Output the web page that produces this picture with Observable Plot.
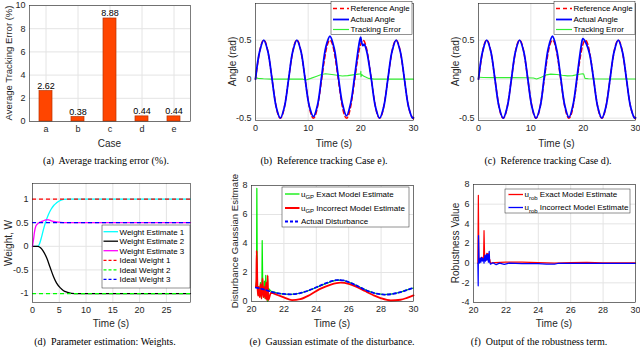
<!DOCTYPE html>
<html><head><meta charset="utf-8">
<script src="https://cdn.jsdelivr.net/npm/d3@7"></script>
<script src="https://cdn.jsdelivr.net/npm/@observablehq/plot@0.6"></script>
<style>
body{margin:0;background:#fff;width:640px;height:347px;overflow:hidden;position:relative;font-family:"Liberation Sans",Arial,sans-serif;}
.panel{position:absolute;overflow:visible;}
.cap{position:absolute;font-family:"Liberation Serif","Times New Roman",serif;font-size:10px;line-height:12px;color:#000;white-space:pre;transform:translateX(-50%);}
</style></head><body>
<script>
// ---------- (a) average tracking error ----------
const cases = ["a","b","c","d","e"];
const avgErr = [2.62, 0.38, 8.88, 0.44, 0.44];
const errTicks = [0,2,4,6,8,10];

// ---------- (b),(c) reference tracking ----------
const angleTicks = [-0.5, 0, 0.5];
const time30Ticks = [0, 10, 20, 30];
const refT = [0,0.785,1.571,2.356,3.142,3.927,4.712,5.498,6.283,7.069,7.854,8.639,9.425,10.21,10.996,11.781,12.566,13.352,14.137,14.923,15.708,16.493,17.279,18.064,18.85,19.635,20.42,21.206,21.991,22.777,23.562,24.347,25.133,25.918,26.704,27.489,28.274,29.06,29.845,30];
const refAngle = [0,0.354,0.5,0.354,0,-0.354,-0.5,-0.354,0,0.354,0.5,0.354,0,-0.354,-0.5,-0.354,0,0.354,0.5,0.354,0,-0.354,-0.5,-0.354,0,0.354,0.5,0.354,0,-0.354,-0.5,-0.354,0,0.354,0.5,0.354,0,-0.354,-0.5,-0.494];
const actBT = [0,0.785,1.571,2.356,3.142,3.927,4.712,5.498,6.283,7.069,7.854,8.639,9.425,10.21,10.996,11.781,12.566,13.352,14.137,14.923,15.708,16.493,17.279,18.064,18.85,19.635,19.96,20.15,20.4,20.65,20.9,21.206,21.991,22.777,23.562,24.347,25.133,25.918,26.704,27.489,28.274,29.06,29.845,30];
const actB = [0,0.354,0.5,0.354,0,-0.354,-0.5,-0.354,0,0.354,0.5,0.354,0,-0.345,-0.48,-0.33,0.04,0.41,0.55,0.4,0.04,-0.31,-0.47,-0.31,0.05,0.44,0.54,0.47,0.43,0.45,0.41,0.33,0,-0.354,-0.5,-0.354,0,0.354,0.5,0.354,0,-0.354,-0.5,-0.494];
const errBT = [0,0.5,1.5,3,6,9,9.6,10.5,11.5,12.5,13.3,14.5,15.5,16.5,17.5,18.5,19.5,19.95,20.0,20.03,20.15,20.5,21.5,22.5,25,30];
const errB = [0.02,0.01,0.005,0,0,0,-0.01,0.01,0.035,0.06,0.07,0.06,0.05,0.04,0.045,0.055,0.065,0.07,0.1,0.03,0.06,0.04,0.01,0,0,0];
const actCT = [0,0.785,1.571,2.356,3.142,3.927,4.712,5.498,6.283,7.069,7.854,8.639,9.425,10.21,10.996,11.781,12.566,13.352,14.137,14.923,15.708,16.493,17.279,18.064,18.85,19.635,19.95,20.42,21.206,21.991,22.777,23.562,24.347,25.133,25.918,26.704,27.489,28.274,29.06,29.845,30];
const actC = [0,0.354,0.5,0.354,0,-0.354,-0.5,-0.354,0,0.354,0.5,0.354,0,-0.354,-0.5,-0.354,0.03,0.40,0.55,0.38,0.02,-0.34,-0.49,-0.33,0.04,0.43,0.52,0.48,0.33,0,-0.354,-0.5,-0.354,0,0.354,0.5,0.354,0,-0.354,-0.5,-0.494];
const errCT = [0,1,3,6,9,10.5,11.1,12,13,13.8,15,16,17,18,19,19.9,20.1,20.35,21,24,27,30];
const errC = [0.025,0.022,0.02,0.02,0.018,0.015,0.003,0.025,0.055,0.065,0.06,0.05,0.042,0.045,0.06,0.07,0.065,0.01,0.005,0.003,0.003,0.003];

// ---------- (d) weights ----------
const wTicks = [-1,-0.5,0,0.5,1];
const wTimeTicks = [0,5,10,15,20,25];
const w1T = [0,0.5,1.0,1.3,1.7,2.1,2.5,3.0,3.5,4.0,4.5,5.0,5.8,7.0,29.5];
const w1 = [0,0,0,0.05,0.2,0.38,0.53,0.68,0.79,0.87,0.92,0.96,0.995,1.0,1.0];
const w2T = [0,1.0,1.5,2.0,2.7,3.3,3.95,4.5,5.2,5.8,6.4,7.3,8.5,29.5];
const w2 = [0,0,-0.03,-0.1,-0.26,-0.45,-0.65,-0.78,-0.88,-0.94,-0.97,-0.995,-1.0,-1.0];
const w3T = [0,0.1,0.2,0.35,0.6,0.9,1.2,1.6,2.0,2.5,3.0,3.5,4.2,5.0,6.0,29.5];
const w3 = [0,0.08,0.15,0.29,0.42,0.47,0.5,0.52,0.54,0.56,0.56,0.54,0.52,0.51,0.5,0.5];
const idealW = [1, -1, 0.5];

// ---------- (e) disturbance ----------
const gpTicks = [0,2,4,6,8];
const time20Ticks = [20,22,24,26,28,30];
const distT = [20.27,20.6,21,21.5,22,22.5,23,23.5,24,24.5,25,25.3,25.7,26.2,26.7,27.2,27.7,28.2,28.7,29.2,29.6,30];
const dist = [0.95,0.88,0.75,0.6,0.52,0.5,0.58,0.75,0.98,1.22,1.42,1.48,1.45,1.25,0.98,0.72,0.55,0.48,0.52,0.65,0.8,0.94];
const gpExactT = [20.27,20.31,20.33,20.36,20.4,20.45,20.5,20.55,20.6,20.64,20.66,20.7,20.75,20.8,20.84,20.88,20.92,20.97,21.0,21.05,21.2,21.6,22,22.5,23,23.5,24,24.5,25,25.3,25.7,26.2,26.7,27.2,27.7,28.2,28.7,29.2,29.6,30];
const gpExact = [1.0,1.5,7.8,1.2,0.5,1.0,0.4,1.3,0.3,1.0,4.2,0.6,0.3,1.4,0.2,1.8,0.3,1.0,0.0,0.9,0.72,0.58,0.5,0.5,0.57,0.74,0.97,1.2,1.4,1.47,1.45,1.25,0.98,0.72,0.55,0.48,0.52,0.65,0.8,0.93];
const gpIncT = [20.27,20.3,20.32,20.36,20.4,20.45,20.5,20.56,20.62,20.68,20.74,20.8,20.86,20.9,20.95,21.0,21.03,21.2,21.6,22,22.5,23,23.6,24.2,24.9,25.5,26,26.5,27,27.5,28,28.6,29.2,29.6,30];
const gpInc = [1.0,1.4,3.5,1.3,0.4,1.0,0.3,1.2,0.2,1.6,0.3,1.0,0.2,1.3,0.1,1.8,0.1,0.6,0.45,0.28,0.1,0.16,0.45,0.85,1.17,1.3,1.22,1.0,0.72,0.45,0.22,0.07,0.12,0.25,0.42];

// ---------- (f) robustness ----------
const robTicks = [-4,-2,0,2,4,6,8];
const robExT = [20.27,20.3,20.33,20.38,20.42,20.47,20.52,20.58,20.62,20.65,20.69,20.74,20.78,20.82,20.86,20.9,20.95,21.0,21.05,21.3,22,23,24,25,26,27,28,30];
const robEx = [0,6.9,0.3,0.5,0.2,0.6,0.3,0.6,0.3,3.3,0.4,0.7,0.3,1.0,0.5,1.0,0.2,0.4,0.0,0.05,0.1,0.1,0.05,0.0,0.05,0.08,0.02,0.02];
const robIncT = [20.27,20.29,20.31,20.34,20.38,20.42,20.46,20.5,20.55,20.6,20.65,20.7,20.74,20.79,20.83,20.88,20.92,20.97,21.0,21.05,21.2,21.4,21.6,21.9,22.2,23,24,24.5,25,25.2,27,30];
const robInc = [0,-2.3,2.8,0.3,0.0,0.5,0.1,0.6,0.2,0.5,0.0,0.8,0.2,0.9,0.3,0.9,0.1,1.2,0.1,-0.1,0.05,-0.15,0.0,-0.12,0.0,-0.05,-0.05,-0.1,-0.1,-0.03,-0.02,-0.02];

// ---------- helpers ----------
const RED = "#ff0000", BLUE = "#0000ff", GREEN = "#33ee33";
const fmt = d => String(d);
const GRID = "#e4e4e4";

function panel(cfg) {
  const {left, top, width, height, box, x, y, xTicks, yTicks, marks} = cfg;
  const svg = Plot.plot({
    width, height,
    marginLeft: box.l - left, marginRight: left + width - box.r,
    marginTop: box.t - top, marginBottom: top + height - box.b,
    style: {fontFamily: "Liberation Sans, Arial, sans-serif", fontSize: "9px", color: "#262626", background: "transparent", overflow: "visible"},
    x, y,
    marks: [
      Plot.gridX({ticks: xTicks, stroke: GRID, strokeOpacity: 1}),
      Plot.gridY({ticks: yTicks, stroke: GRID, strokeOpacity: 1}),
      ...marks,
      Plot.frame({stroke: "#262626", strokeWidth: 0.6}),
      Plot.axisX({ticks: xTicks, tickSize: 0, tickPadding: 4, tickFormat: cfg.xFormat || fmt, label: null}),
      Plot.axisY({ticks: yTicks, tickSize: 0, tickPadding: 4, tickFormat: fmt, label: null})
    ]
  });
  svg.classList.add("panel");
  svg.style.left = left + "px";
  svg.style.top = top + "px";
  document.body.appendChild(svg);
  const s = d3.select(svg);
  s.append("text").attr("transform", `translate(${cfg.yl[0]-left},${cfg.yl[1]-top}) rotate(-90)`)
    .attr("text-anchor", "middle").attr("dy", "0.35em").style("font-size", (cfg.ylSize || 10) + "px").attr("fill", "#262626").text(cfg.ylabel);
  s.append("text").attr("x", cfg.xl[0]-left).attr("y", cfg.xl[1]-top)
    .attr("text-anchor", "middle").attr("dy", "0.35em").style("font-size", "10px").attr("fill", "#262626").text(cfg.xlabel);
  if (cfg.legend) {
    const L = cfg.legend;
    const g = s.append("g").attr("text-anchor", "start");
    g.append("rect").attr("x", L.x - left).attr("y", L.y - top).attr("width", L.w).attr("height", L.h)
      .attr("fill", "#fff").attr("stroke", "#262626").attr("stroke-width", 0.5);
    L.rows.forEach(r => {
      g.append("line").attr("x1", L.s0 - left).attr("x2", L.s1 - left).attr("y1", r.y - top).attr("y2", r.y - top)
        .attr("stroke", r.color).attr("stroke-width", r.w || 1.2).attr("stroke-dasharray", r.dash || null);
      const t = g.append("text").attr("x", L.tx - left).attr("y", r.y - top).attr("dy", "0.35em")
        .attr("text-anchor", "start").style("font-size", "8px").attr("fill", "#000");
      if (r.sub) {
        t.append("tspan").text(r.pre);
        t.append("tspan").attr("dy", 2.5).style("font-size", "6px").text(r.sub);
        t.append("tspan").attr("dy", -2.5).text(" " + r.label);
      } else t.text(r.label);
    });
  }
}
function caption(text, cx, top) {
  const d = document.createElement("div");
  d.className = "cap"; d.style.left = cx + "px"; d.style.top = top + "px"; d.textContent = text;
  document.body.appendChild(d);
}
const ln = (T, V, o) => Plot.line(V, {x: T, y: V, ...o});

// (a)
panel({
  left: 0, top: 0, width: 205, height: 150, box: {l: 29, r: 190, t: 5, b: 121},
  x: {domain: cases, paddingInner: 0.6, paddingOuter: 0.3}, y: {domain: [0, 10]},
  xTicks: cases, yTicks: errTicks, xFormat: d => d,
  marks: [
    Plot.barY(avgErr, {x: cases, y: avgErr, fill: "#ff4500", stroke: "#b83200", strokeWidth: 0.7}),
    Plot.text(avgErr, {x: cases, y: avgErr, text: avgErr.map(d => d.toFixed(2)), dy: -2, lineAnchor: "bottom", fontSize: 9, fill: "#000"})
  ],
  ylabel: "Average Tracking Error (%)", ylSize: 9.5, yl: [9, 63], xlabel: "Case", xl: [109.5, 143]
});
// (b)
panel({
  left: 215, top: 0, width: 205, height: 150, box: {l: 255, r: 413, t: 3, b: 120},
  x: {domain: [0, 30]}, y: {domain: [-0.53, 0.97]}, xTicks: time30Ticks, yTicks: angleTicks,
  marks: [
    ln(errBT, errB, {stroke: GREEN, strokeWidth: 1.1}),
    ln(refT, refAngle, {stroke: RED, strokeWidth: 1.5, strokeDasharray: "4,3", curve: "natural"}),
    ln(actBT, actB, {stroke: BLUE, strokeWidth: 1.8, curve: "catmull-rom"})
  ],
  ylabel: "Angle (rad)", yl: [232, 61.5], xlabel: "Time (s)", xl: [334, 143],
  legend: {x: 331, y: 1.5, w: 81, h: 33, s0: 333, s1: 349, tx: 350.5,
    rows: [{y: 8.5, color: RED, dash: "4,3", w: 1.5, label: "Reference Angle"},
           {y: 19.5, color: BLUE, w: 1.8, label: "Actual Angle"},
           {y: 29.5, color: GREEN, w: 1.2, label: "Tracking Error"}]}
});
// (c)
panel({
  left: 435, top: 0, width: 205, height: 150, box: {l: 478, r: 635, t: 3, b: 120},
  x: {domain: [0, 30]}, y: {domain: [-0.53, 0.97]}, xTicks: time30Ticks, yTicks: angleTicks,
  marks: [
    ln(errCT, errC, {stroke: GREEN, strokeWidth: 1.1}),
    ln(refT, refAngle, {stroke: RED, strokeWidth: 1.5, strokeDasharray: "4,3", curve: "natural"}),
    ln(actCT, actC, {stroke: BLUE, strokeWidth: 1.8, curve: "catmull-rom"})
  ],
  ylabel: "Angle (rad)", yl: [455, 61.5], xlabel: "Time (s)", xl: [556.5, 143],
  legend: {x: 554, y: 1.5, w: 81, h: 33, s0: 556, s1: 572, tx: 573.5,
    rows: [{y: 8.5, color: RED, dash: "4,3", w: 1.5, label: "Reference Angle"},
           {y: 19.5, color: BLUE, w: 1.8, label: "Actual Angle"},
           {y: 29.5, color: GREEN, w: 1.2, label: "Tracking Error"}]}
});
// (d)
panel({
  left: 0, top: 172, width: 205, height: 175, box: {l: 32, r: 190, t: 183, b: 302},
  x: {domain: [0, 29.5]}, y: {domain: [-1.19, 1.33]}, xTicks: wTimeTicks, yTicks: wTicks,
  marks: [
    ln(w1T, w1, {stroke: "#00ffff", strokeWidth: 1.3, curve: "monotone-x"}),
    ln(w2T, w2, {stroke: "#000000", strokeWidth: 1.3, curve: "monotone-x"}),
    ln(w3T, w3, {stroke: "#ff00ff", strokeWidth: 1.3, curve: "monotone-x"}),
    Plot.ruleY([idealW[0]], {y: d => d, stroke: RED, strokeWidth: 1.3, strokeDasharray: "4,3"}),
    Plot.ruleY([idealW[1]], {y: d => d, stroke: "#00ff00", strokeWidth: 1.3, strokeDasharray: "4,3"}),
    Plot.ruleY([idealW[2]], {y: d => d, stroke: BLUE, strokeWidth: 1.3, strokeDasharray: "4,3"})
  ],
  ylabel: "Weight, W", yl: [8, 243], xlabel: "Time (s)", xl: [111, 323],
  legend: {x: 102, y: 225, w: 88, h: 63, s0: 103.5, s1: 118, tx: 119.5,
    rows: [{y: 231.7, color: "#00ffff", w: 1.3, label: "Weight Estimate 1"},
           {y: 241.2, color: "#000", w: 1.3, label: "Weight Estimate 2"},
           {y: 250.7, color: "#ff00ff", w: 1.3, label: "Weight Estimate 3"},
           {y: 260.3, color: RED, dash: "3,2", w: 1.3, label: "Ideal Weight 1"},
           {y: 269.8, color: "#00ff00", dash: "3,2", w: 1.3, label: "Ideal Weight 2"},
           {y: 279.3, color: BLUE, dash: "3,2", w: 1.3, label: "Ideal Weight 3"}]}
});
// (e)
panel({
  left: 210, top: 172, width: 210, height: 175, box: {l: 251, r: 413, t: 185, b: 301},
  x: {domain: [20, 30]}, y: {domain: [0, 8]}, xTicks: time20Ticks, yTicks: gpTicks,
  marks: [
    ln(gpExactT, gpExact, {stroke: "#00ee00", strokeWidth: 1.2}),
    ln(gpIncT, gpInc, {stroke: RED, strokeWidth: 1.8, curve: "monotone-x"}),
    ln(distT, dist, {stroke: BLUE, strokeWidth: 1.8, strokeDasharray: "3,2.5", curve: "natural"})
  ],
  ylabel: "Disturbance Gaussian Esitmate", ylSize: 9.6, yl: [235, 241], xlabel: "Time (s)", xl: [332, 323],
  legend: {x: 282, y: 187, w: 127, h: 40, s0: 285, s1: 299.5, tx: 301,
    rows: [{y: 194, color: "#00ee00", w: 1.3, pre: "u", sub: "GP", label: "Exact Model Estimate"},
           {y: 208, color: RED, w: 2, pre: "u", sub: "GP", label: "Incorrect Model Estimate"},
           {y: 221.5, color: BLUE, dash: "3,2", w: 1.8, label: "Actual Disturbance"}]}
});
// (f)
panel({
  left: 435, top: 172, width: 205, height: 175, box: {l: 473, r: 635, t: 184, b: 302},
  x: {domain: [20, 30]}, y: {domain: [-4, 8]}, xTicks: time20Ticks, yTicks: robTicks,
  marks: [
    ln(robExT, robEx, {stroke: RED, strokeWidth: 1.2}),
    ln(robIncT, robInc, {stroke: BLUE, strokeWidth: 1.2})
  ],
  ylabel: "Robustness Value", yl: [455, 243], xlabel: "Time (s)", xl: [554, 323],
  legend: {x: 505, y: 189, w: 125, h: 24, s0: 508.5, s1: 523, tx: 524.5,
    rows: [{y: 194.5, color: RED, w: 1.3, pre: "u", sub: "rob", label: "Exact Model Estimate"},
           {y: 207.5, color: BLUE, w: 1.3, pre: "u", sub: "rob", label: "Incorrect Model Estimate"}]}
});

caption("(a)  Average tracking error (%).", 106, 155);
caption("(b)  Reference tracking Case e).", 324, 155);
caption("(c)  Reference tracking Case d).", 548, 155);
caption("(d)  Parameter estimation: Weights.", 105, 336);
caption("(e)  Gaussian estimate of the disturbance.", 332, 336);
caption("(f)  Output of the robustness term.", 539, 336);
</script>
</body></html>
